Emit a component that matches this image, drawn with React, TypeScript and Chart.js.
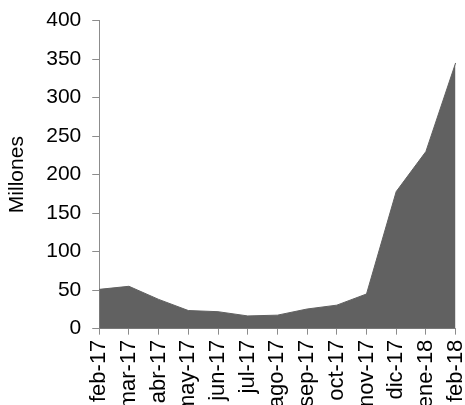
import React, { useEffect, useRef } from "react";
import { Chart, registerables } from "chart.js";

Chart.register(...registerables);

const categories = ["feb-17", "mar-17", "abr-17", "may-17", "jun-17", "jul-17", "ago-17", "sep-17", "oct-17", "nov-17", "dic-17", "ene-18", "feb-18"];
const values = [51, 55, 38, 23.5, 22, 16.5, 17.5, 25.5, 30.5, 45, 178, 230, 345];
const yTitle = "Millones";

export default function App() {
  const ref = useRef<HTMLCanvasElement>(null);
  useEffect(() => {
    if (!ref.current) return;
    const family = "'Liberation Sans', Arial, sans-serif";
    const tickFont = { family, size: 21 };
    const xFont = { family, size: 22 };
    const chart = new Chart(ref.current, {
      type: "line",
      data: {
        labels: categories,
        datasets: [
          {
            data: values,
            fill: "origin",
            backgroundColor: "#616161",
            borderColor: "#616161",
            borderWidth: 1,
            pointRadius: 0,
            tension: 0,
          },
        ],
      },
      options: {
        animation: false,
        responsive: false,
        devicePixelRatio: 1,
        layout: { padding: { top: 3, right: 0, left: 5, bottom: 0 } },
        plugins: { legend: { display: false }, tooltip: { enabled: false }, title: { display: false } },
        scales: {
          x: {
            offset: false,
            grid: { display: true, drawOnChartArea: false, drawTicks: true, tickLength: 6, color: "#8c8c8c" },
            border: { display: true, color: "#8c8c8c", width: 1 },
            ticks: { font: xFont, color: "#000", minRotation: 90, maxRotation: 90, autoSkip: false, padding: 5 },
          },
          y: {
            min: 0,
            max: 400,
            grid: { display: true, drawOnChartArea: false, drawTicks: true, tickLength: 7, color: "#8c8c8c" },
            border: { display: true, color: "#8c8c8c", width: 1 },
            ticks: { font: tickFont, color: "#000", stepSize: 50, padding: 11 },
            title: { display: true, text: yTitle, font: { family, size: 21 }, color: "#000", padding: { top: 0, bottom: 5 } },
          },
        },
      },
    });
    return () => chart.destroy();
  }, []);
  return (
    <div style={{ position: "fixed", left: 0, top: 0, width: 465, height: 405, overflow: "hidden", background: "#fff" }}>
      <canvas ref={ref} width={487} height={421} style={{ display: "block", marginTop: -3 }} />
    </div>
  );
}
